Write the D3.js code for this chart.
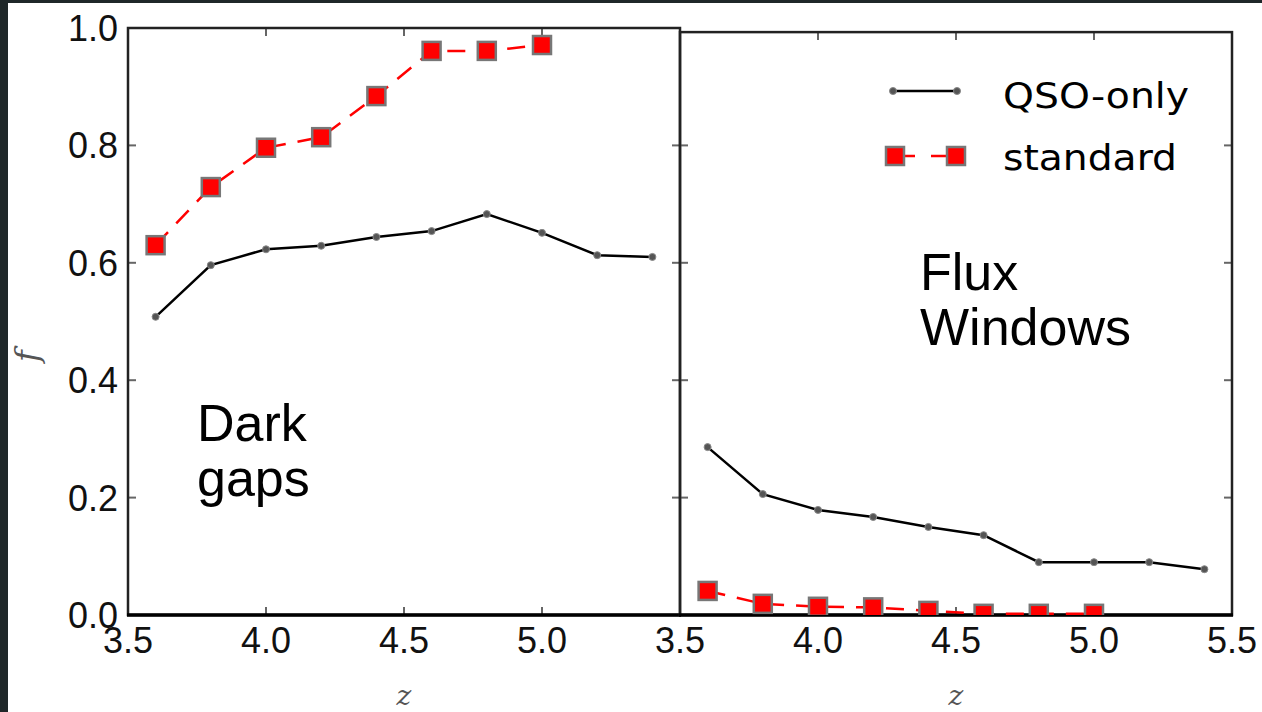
<!DOCTYPE html>
<html>
<head>
<meta charset="utf-8">
<script src="https://cdn.jsdelivr.net/npm/d3@7"></script>
<style>
html,body{margin:0;padding:0;background:#fff;}
svg{display:block;}
</style>
</head>
<body>
<svg id="c" width="1262" height="712"></svg>
<script>
// ---- data ----
const zQSO = [3.6, 3.8, 4.0, 4.2, 4.4, 4.6, 4.8, 5.0, 5.2, 5.4];
const zStd = [3.6, 3.8, 4.0, 4.2, 4.4, 4.6, 4.8, 5.0];
const darkQSO = [0.508, 0.596, 0.623, 0.629, 0.644, 0.654, 0.683, 0.651, 0.613, 0.610];
const darkStd = [0.630, 0.729, 0.796, 0.814, 0.884, 0.961, 0.961, 0.971];
const fluxQSO = [0.286, 0.206, 0.179, 0.167, 0.150, 0.136, 0.090, 0.090, 0.090, 0.078];
const fluxStd = [0.041, 0.019, 0.014, 0.013, 0.007, 0.002, 0.002, 0.002];
const xTicks = [3.5, 4.0, 4.5, 5.0, 5.5];
const yTicks = [0.0, 0.2, 0.4, 0.6, 0.8, 1.0];
const seriesNames = ["QSO-only", "standard"];

const svg = d3.select("#c");
// dark border strips
svg.append("rect").attr("x",0).attr("y",0).attr("width",1262).attr("height",3).attr("fill","#1f2729");
svg.append("rect").attr("x",0).attr("y",0).attr("width",8).attr("height",712).attr("fill","#1f2729");

const y = d3.scaleLinear([0, 1], [615, 28]);
const panels = [
  {id:"L", x: d3.scaleLinear([3.5, 5.5], [128, 680]), top: y(1.0), qso: darkQSO, std: darkStd,
   xlabels: [3.5, 4.0, 4.5, 5.0], ylabels: true, text: ["Dark", "gaps"], tx: 197, ty: 441},
  {id:"R", x: d3.scaleLinear([3.5, 5.5], [680, 1232]), top: y(0.993), qso: fluxQSO, std: fluxStd,
   xlabels: xTicks, ylabels: false, text: ["Flux", "Windows"], tx: 920, ty: 290}
];

const tickFont = "'Liberation Sans', Arial, sans-serif";

panels.forEach(p => {
  const x = p.x;
  const x0 = x.range()[0], x1 = x.range()[1];
  const yb = y(0), yt = p.top;
  svg.append("clipPath").attr("id","clip"+p.id)
    .append("rect").attr("x",x0).attr("y",yt).attr("width",x1-x0).attr("height",yb-yt);
  const g = svg.append("g");
  // ticks (inward, all sides)
  const tk = "#666";
  xTicks.forEach(t => {
    g.append("line").attr("x1",x(t)).attr("x2",x(t)).attr("y1",yb).attr("y2",yb-8).attr("stroke",tk).attr("stroke-width",2);
    g.append("line").attr("x1",x(t)).attr("x2",x(t)).attr("y1",yt).attr("y2",yt+8).attr("stroke",tk).attr("stroke-width",2);
  });
  yTicks.forEach(t => {
    if (y(t) < yt - 1) return;
    g.append("line").attr("x1",x0).attr("x2",x0+8).attr("y1",y(t)).attr("y2",y(t)).attr("stroke",tk).attr("stroke-width",2);
    g.append("line").attr("x1",x1).attr("x2",x1-8).attr("y1",y(t)).attr("y2",y(t)).attr("stroke",tk).attr("stroke-width",2);
  });
  // tick labels
  p.xlabels.forEach(t => {
    g.append("text").attr("x",x(t)).attr("y",653).attr("text-anchor","middle")
      .attr("font-family",tickFont).attr("font-size",36).attr("fill","#111").text(t.toFixed(1));
  });
  if (p.ylabels) {
    yTicks.forEach(t => {
      g.append("text").attr("x",118).attr("y",y(t)).attr("dy","0.36em").attr("text-anchor","end")
        .attr("font-family",tickFont).attr("font-size",36).attr("fill","#111").text(t.toFixed(1));
    });
  }
  // x axis label
  g.append("text").attr("x",(x0+x1)/2).attr("y",705).attr("text-anchor","middle")
    .attr("font-family","'DejaVu Serif', serif").attr("font-style","italic").attr("font-size",28)
    .attr("fill","#555").text("z");

  // data
  const dg = svg.append("g").attr("clip-path","url(#clip"+p.id+")");
  const line = d3.line().x(d => x(d[0])).y(d => y(d[1]));
  const stdPts = zStd.map((z,i) => [z, p.std[i]]);
  const qsoPts = zQSO.map((z,i) => [z, p.qso[i]]);
  dg.append("path").attr("d", line(stdPts)).attr("fill","none").attr("stroke","#ff0000")
    .attr("stroke-width",2.5).attr("stroke-dasharray","18,12");
  dg.selectAll(null).data(stdPts).join("rect")
    .attr("x", d => x(d[0]) - 9).attr("y", d => y(d[1]) - 9).attr("width",18).attr("height",18)
    .attr("fill","#ff0000").attr("stroke","#777").attr("stroke-width",2.5);
  dg.append("path").attr("d", line(qsoPts)).attr("fill","none").attr("stroke","#000").attr("stroke-width",2.5);
  dg.selectAll(null).data(qsoPts).join("circle")
    .attr("cx", d => x(d[0])).attr("cy", d => y(d[1])).attr("r",3.5)
    .attr("fill","#555").attr("stroke","#888").attr("stroke-width",1);

  // frame
  g.append("rect").attr("x",x0).attr("y",yt).attr("width",x1-x0).attr("height",yb-yt)
    .attr("fill","none").attr("stroke","#222").attr("stroke-width",2.5);
  g.append("line").attr("x1",x0-1).attr("x2",x1+1).attr("y1",yb).attr("y2",yb).attr("stroke","#000").attr("stroke-width",3.5);

  // panel annotation
  p.text.forEach((s,i) => {
    svg.append("text").attr("x",p.tx).attr("y",p.ty + i*55)
      .attr("font-family",tickFont).attr("font-size",52).attr("fill","#000").text(s);
  });
});

// y axis label
svg.append("text").attr("transform","translate(38,356) rotate(-90)").attr("text-anchor","middle")
  .attr("font-family","'DejaVu Serif', serif").attr("font-style","italic").attr("font-size",32)
  .attr("fill","#555").text("f");

// legend
const lg = svg.append("g");
const legFont = "'DejaVu Sans', sans-serif";
lg.append("line").attr("x1",893).attr("x2",957).attr("y1",91).attr("y2",91).attr("stroke","#000").attr("stroke-width",2.5);
[893,957].forEach(cx => lg.append("circle").attr("cx",cx).attr("cy",91).attr("r",3.5).attr("fill","#555").attr("stroke","#888"));
lg.append("line").attr("x1",895).attr("x2",956).attr("y1",156).attr("y2",156).attr("stroke","#ff0000").attr("stroke-width",2.5).attr("stroke-dasharray","20,16");
[895,956].forEach(cx => lg.append("rect").attr("x",cx-9).attr("y",147).attr("width",18).attr("height",18)
  .attr("fill","#ff0000").attr("stroke","#777").attr("stroke-width",2.5));
lg.append("text").attr("x",1003).attr("y",108).attr("font-family",legFont).attr("font-size",36).attr("fill","#000")
  .attr("textLength",186).attr("lengthAdjust","spacingAndGlyphs").text(seriesNames[0]);
lg.append("text").attr("x",1003).attr("y",170).attr("font-family",legFont).attr("font-size",36).attr("fill","#000")
  .attr("textLength",174).attr("lengthAdjust","spacingAndGlyphs").text(seriesNames[1]);
</script>
</body>
</html>
